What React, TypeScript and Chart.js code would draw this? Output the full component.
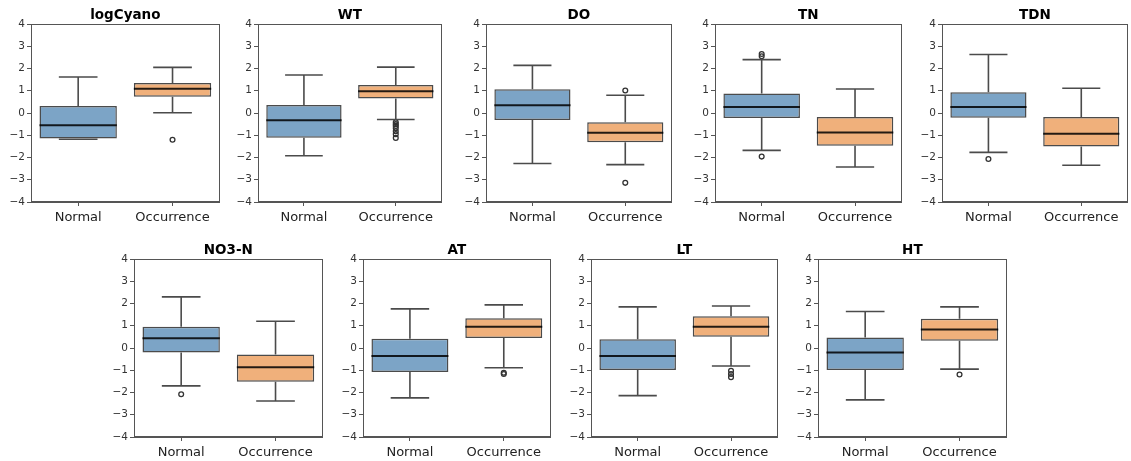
import React, { useEffect, useRef } from "react";
import { Chart, registerables } from "chart.js";

Chart.register(...registerables);

// ---------- data ----------
const groups = ["Normal", "Occurrence"];
const variables = ["logCyano", "WT", "DO", "TN", "TDN", "NO3-N", "AT", "LT", "HT"];
const yTicks = [-4, -3, -2, -1, 0, 1, 2, 3, 4];

// [lower whisker, Q1, median, Q3, upper whisker]
const normalStats = [
  [-1.18, -1.15, -0.55, 0.31, 1.62],
  [-1.92, -1.11, -0.33, 0.36, 1.71],
  [-2.27, -0.32, 0.35, 1.07, 2.14],
  [-1.68, -0.22, 0.27, 0.88, 2.4],
  [-1.77, -0.21, 0.27, 0.93, 2.63],
  [-1.7, -0.2, 0.44, 0.95, 2.3],
  [-2.24, -1.08, -0.36, 0.42, 1.76],
  [-2.14, -0.99, -0.36, 0.39, 1.85],
  [-2.33, -0.99, -0.2, 0.47, 1.64],
];
const occurrenceStats = [
  [0.01, 0.73, 1.09, 1.35, 2.05],
  [-0.29, 0.65, 0.98, 1.26, 2.06],
  [-2.32, -1.31, -0.89, -0.42, 0.8],
  [-2.43, -1.47, -0.88, -0.18, 1.08],
  [-2.35, -1.5, -0.93, -0.18, 1.11],
  [-2.38, -1.52, -0.86, -0.29, 1.2],
  [-0.89, 0.45, 0.96, 1.34, 1.94],
  [-0.81, 0.51, 0.96, 1.43, 1.89],
  [-0.95, 0.33, 0.83, 1.31, 1.85],
];
const normalOutliers: number[][] = [[], [], [], [2.65, 2.55, -1.96], [-2.07], [-2.08], [], [], []];
const occurrenceOutliers: number[][] = [
  [-1.2],
  [-0.42, -0.5, -0.58, -0.68, -0.82, -0.95, -1.12],
  [1.01, -3.14],
  [],
  [],
  [],
  [-1.11, -1.17],
  [-1.02, -1.17, -1.31],
  [-1.19],
];

// ---------- layout ----------
const plotLefts = [31, 258, 486, 715, 942, 134, 363, 591, 818];
const plotWidths = [190, 185, 187, 188, 187, 190, 189, 188, 190];
const rowTops = [0, 0, 0, 0, 0, 235, 235, 235, 235];
const Y_AXIS_W = 30;
const PAD_R = 4;
const CANVAS_H = 230;

const FONT = '"DejaVu Sans", Verdana, sans-serif';
const boxColors = ["#7ca4c6", "#f0b07b"];
const edgeColor = "#4b4b4b";

const boxExtras = {
  id: "boxExtras",
  afterDatasetsDraw(chart: any, _args: any, opts: any) {
    const { ctx, scales } = chart;
    const y = scales.y;
    const meta = chart.getDatasetMeta(0);
    const stats: number[][] = opts.stats || [];
    ctx.save();
    meta.data.forEach((bar: any, i: number) => {
      const s = stats[i];
      if (!s) return;
      const [lo, q1, med, q3, hi] = s;
      const cx = bar.x;
      const w = bar.width;
      ctx.strokeStyle = edgeColor;
      ctx.lineWidth = 1.6;
      ctx.beginPath();
      ctx.moveTo(cx, y.getPixelForValue(q3));
      ctx.lineTo(cx, y.getPixelForValue(hi));
      ctx.moveTo(cx - w / 4, y.getPixelForValue(hi));
      ctx.lineTo(cx + w / 4, y.getPixelForValue(hi));
      ctx.moveTo(cx, y.getPixelForValue(q1));
      ctx.lineTo(cx, y.getPixelForValue(lo));
      ctx.moveTo(cx - w / 4, y.getPixelForValue(lo));
      ctx.lineTo(cx + w / 4, y.getPixelForValue(lo));
      ctx.stroke();
      ctx.strokeStyle = "rgba(0,0,0,0.85)";
      ctx.lineWidth = 2;
      ctx.beginPath();
      ctx.moveTo(cx - w / 2, y.getPixelForValue(med));
      ctx.lineTo(cx + w / 2, y.getPixelForValue(med));
      ctx.stroke();
    });
    ctx.restore();
  },
  afterDraw(chart: any, _args: any, opts: any) {
    const { ctx, chartArea } = chart;
    ctx.save();
    ctx.strokeStyle = "#555";
    ctx.lineWidth = 1;
    ctx.strokeRect(
      Math.round(chartArea.left) + 0.5,
      Math.round(chartArea.top) + 0.5,
      Math.round(chartArea.right - chartArea.left) - 1,
      Math.round(chartArea.bottom - chartArea.top) - 1
    );
    ctx.fillStyle = "#000";
    ctx.font = `bold 13.5px ${FONT}`;
    ctx.textAlign = "center";
    ctx.textBaseline = "middle";
    ctx.fillText(opts.title || "", (chartArea.left + chartArea.right) / 2, 15);
    ctx.restore();
  },
};

function Panel({ index }: { index: number }) {
  const ref = useRef<HTMLCanvasElement | null>(null);
  const width = Y_AXIS_W + plotWidths[index] + PAD_R;

  useEffect(() => {
    if (!ref.current) return;
    const ns = normalStats[index];
    const os = occurrenceStats[index];
    const outlierPoints = [
      ...normalOutliers[index].map((v) => ({ x: groups[0], y: v })),
      ...occurrenceOutliers[index].map((v) => ({ x: groups[1], y: v })),
    ];
    const chart = new Chart(ref.current, {
      type: "bar",
      data: {
        labels: groups,
        datasets: [
          {
            type: "bar",
            data: [
              [ns[1], ns[3]],
              [os[1], os[3]],
            ] as any,
            backgroundColor: boxColors,
            borderColor: edgeColor,
            borderWidth: 1.5,
            borderSkipped: false,
            categoryPercentage: 1,
            barPercentage: 0.82,
            order: 1,
          } as any,
          {
            type: "scatter",
            data: outlierPoints as any,
            pointStyle: "circle",
            pointRadius: 2.4,
            pointBorderWidth: 1.3,
            pointBorderColor: "#333",
            pointBackgroundColor: "rgba(255,255,255,0)",
            showLine: false,
            order: 0,
          } as any,
        ],
      },
      options: {
        animation: false,
        responsive: false,
        devicePixelRatio: 1,
        layout: { padding: { top: 24, right: PAD_R, left: 0, bottom: 0 } },
        plugins: {
          legend: { display: false },
          tooltip: { enabled: false },
          boxExtras: { stats: [ns, os], title: variables[index] },
        } as any,
        scales: {
          x: {
            type: "category",
            offset: true,
            grid: {
              display: true,
              drawOnChartArea: false,
              drawTicks: true,
              tickLength: 4,
              color: "#555",
              offset: false,
            },
            border: { display: true, color: "#555" },
            ticks: {
              font: { family: FONT, size: 13 },
              color: "#222",
              padding: 4,
              maxRotation: 0,
              autoSkip: false,
            },
            afterFit: (s: any) => {
              s.height = 28;
            },
          },
          y: {
            type: "linear",
            min: -4,
            max: 4,
            afterBuildTicks: (s: any) => {
              s.ticks = yTicks.map((v) => ({ value: v }));
            },
            grid: {
              display: true,
              drawOnChartArea: false,
              drawTicks: true,
              tickLength: 4,
              color: "#555",
            },
            border: { display: true, color: "#555" },
            ticks: {
              font: { family: FONT, size: 10.5 },
              color: "#333",
              padding: 2,
              callback: (v: any) => (Number(v) < 0 ? "\u2212" + Math.abs(Number(v)) : String(v)),
            },
            afterFit: (s: any) => {
              s.width = Y_AXIS_W;
            },
          },
        },
      } as any,
      plugins: [boxExtras],
    });
    return () => chart.destroy();
  }, [index]);

  return (
    <canvas
      ref={ref}
      width={width}
      height={CANVAS_H}
      style={{
        position: "absolute",
        left: plotLefts[index] - Y_AXIS_W,
        top: rowTops[index],
        width,
        height: CANVAS_H,
      }}
    />
  );
}

export default function App() {
  return (
    <div
      style={{
        position: "fixed",
        left: 0,
        top: 0,
        width: 1131,
        height: 461,
        background: "#fff",
        overflow: "hidden",
      }}
    >
      {variables.map((_, i) => (
        <Panel key={i} index={i} />
      ))}
    </div>
  );
}
